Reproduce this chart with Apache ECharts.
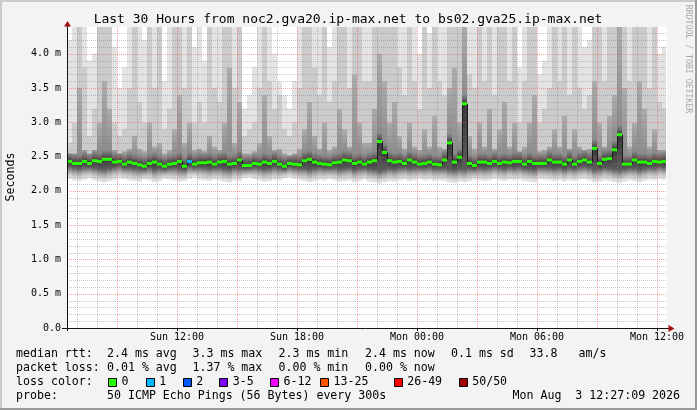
<!DOCTYPE html>
<html>
<head>
<meta charset="utf-8">
<script src="https://cdn.jsdelivr.net/npm/echarts@6/dist/echarts.min.js"></script>
<style>
html,body{margin:0;padding:0;background:#f3f3f3;}
#c{width:697px;height:410px;}
</style>
</head>
<body>
<div id="c"></div>
<script>
// ---- time axis (hours since Sun 00:00) ----
const axisStart = 6.5;      // Sun 06:30
const axisEnd = 36.5;       // Mon 12:30
const slotHours = 0.25;     // one smoke column = 15 min
const dataEnd = 36.45;      // Mon 12:27
const yMax = 4.39;

const xTickHours = [12, 18, 24, 30, 36];
const xTickLabels = ['Sun 12:00', 'Sun 18:00', 'Mon 00:00', 'Mon 06:00', 'Mon 12:00'];
const xMinorHours = [7,8,10,11,13,14,16,17,19,20,22,23,25,26,28,29,31,32,34,35];
const xMajorHours = [9,12,15,18,21,24,27,30,33,36];
const yTickValues = [0,0.5,1.0,1.5,2.0,2.5,3.0,3.5,4.0];
const yTickLabels = ['0.0','0.5 m','1.0 m','1.5 m','2.0 m','2.5 m','3.0 m','3.5 m','4.0 m'];
const yMinorValues = [0.1,0.2,0.3,0.4,0.6,0.7,0.8,0.9,1.1,1.2,1.3,1.4,1.6,1.7,1.8,1.9,2.1,2.2,2.3,2.4,2.6,2.7,2.8,2.9,3.1,3.2,3.3,3.4,3.6,3.7,3.8,3.9,4.1,4.2,4.3];
const yMajorValues = [0.5,1.0,1.5,2.0,2.5,3.0,3.5,4.0];

// ---- median rtt per slot (ms) ----
const median = [
2.43,2.40,2.40,2.43,2.40,2.44,2.43,2.46,2.46,2.42,
2.43,2.39,2.42,2.40,2.38,2.36,2.40,2.42,2.39,2.36,
2.39,2.40,2.43,2.36,2.43,2.39,2.41,2.41,2.42,2.39,
2.42,2.43,2.39,2.40,2.45,2.37,2.37,2.40,2.39,2.42,
2.40,2.43,2.39,2.36,2.40,2.39,2.38,2.44,2.46,2.42,
2.40,2.39,2.38,2.41,2.42,2.45,2.44,2.40,2.42,2.39,
2.42,2.44,2.72,2.56,2.44,2.42,2.43,2.40,2.45,2.42,
2.39,2.40,2.42,2.39,2.38,2.45,2.70,2.42,2.49,3.27,
2.40,2.37,2.42,2.42,2.40,2.43,2.40,2.42,2.41,2.43,
2.43,2.39,2.43,2.40,2.40,2.40,2.45,2.42,2.42,2.39,
2.45,2.39,2.43,2.45,2.42,2.62,2.40,2.46,2.47,2.60,
2.82,2.39,2.39,2.45,2.42,2.42,2.40,2.43,2.42,2.43];

// ---- lost pings per slot ----
const lossPings = [
0,0,0,0,0,0,0,0,0,0, 0,0,0,0,0,0,0,0,0,0,
0,0,0,0,1,0,0,0,0,0, 0,0,0,0,0,0,0,0,0,0,
0,0,0,0,0,0,0,0,0,0, 0,0,0,0,0,0,0,0,0,0,
0,0,0,0,0,0,0,0,0,0, 0,0,0,0,0,0,0,0,0,0,
0,0,0,0,0,0,0,0,0,0, 0,0,0,0,0,0,0,0,0,0,
0,0,0,0,0,0,0,0,0,0, 0,0,0,0,0,0,0,0,0,0];

// ---- smoke: lowest ping ----
const smokeLow = [
2.17,2.15,2.14,2.16,2.18,2.15,2.13,2.12,2.14,2.16,
2.18,2.17,2.15,2.14,2.13,2.16,2.15,2.12,2.14,2.17,
2.16,2.15,2.13,2.14,2.17,2.19,2.16,2.15,2.14,2.16,
2.15,2.13,2.12,2.15,2.14,2.18,2.19,2.17,2.15,2.13,
2.14,2.16,2.15,2.18,2.19,2.17,2.15,2.14,2.12,2.14,
2.16,2.15,2.17,2.15,2.13,2.14,2.15,2.12,2.14,2.16,
2.13,2.12,2.10,2.12,2.14,2.13,2.15,2.16,2.14,2.15,
2.17,2.15,2.16,2.14,2.15,2.14,2.12,2.11,2.13,2.12,
2.14,2.16,2.15,2.14,2.15,2.17,2.15,2.14,2.16,2.15,
2.16,2.14,2.13,2.12,2.17,2.16,2.15,2.14,2.15,2.13,
2.15,2.14,2.16,2.17,2.15,2.12,2.13,2.15,2.14,2.12,
2.11,2.13,2.15,2.14,2.12,2.14,2.16,2.15,2.17,2.16];

// ---- smoke: top of dense (dark) part ----
const smokeDark = [
2.55,2.55,3.5,2.6,2.55,2.6,3.0,3.6,3.2,2.6,
2.55,2.58,2.62,2.8,2.62,2.58,3.0,2.65,2.7,2.55,
2.6,2.9,3.4,2.7,3.0,2.6,2.62,2.58,2.8,2.65,
2.6,3.0,3.8,2.7,3.3,2.55,2.55,2.58,2.7,3.4,
2.8,2.6,2.62,2.55,2.52,2.55,2.62,2.9,3.3,2.8,
2.62,3.0,2.6,2.65,3.2,2.9,2.65,3.7,3.0,2.7,
2.7,3.2,4.0,3.6,3.0,3.3,2.8,2.62,3.0,2.65,
2.6,2.9,2.65,3.1,2.65,2.62,3.5,3.8,3.0,4.39,
2.8,2.62,3.0,2.65,3.2,2.62,2.9,3.3,2.65,3.0,
2.58,2.65,3.0,3.4,2.58,2.6,2.65,2.9,2.65,3.1,
2.62,2.9,2.65,2.6,2.62,3.6,3.0,2.65,3.1,3.4,
4.39,3.5,2.65,3.0,3.6,3.2,2.65,2.9,2.6,2.6];

// ---- smoke: top of medium part ----
const smokeMid = [
2.7,3.0,4.39,3.8,2.8,3.2,4.39,4.39,4.39,3.0,
2.8,2.9,3.5,4.39,3.3,3.0,4.39,3.5,4.39,2.9,
3.2,4.39,4.39,3.5,4.39,3.0,3.3,3.0,4.39,3.5,
3.3,4.39,4.39,3.5,4.39,2.8,2.9,3.0,3.5,4.39,
3.6,3.2,3.4,2.9,2.8,3.0,3.5,4.39,4.39,3.8,
3.4,4.39,3.3,3.6,4.39,4.39,3.5,4.39,4.39,3.6,
3.6,4.39,4.39,4.39,4.39,4.39,3.8,3.4,4.39,3.6,
3.2,4.39,3.5,4.39,3.6,3.4,4.39,4.39,4.39,4.39,
3.7,3.5,4.39,3.6,4.39,3.4,4.39,4.39,3.6,4.39,
3.0,3.6,4.39,4.39,3.0,3.2,3.5,4.39,3.6,4.39,
3.4,4.39,3.5,3.2,3.4,4.39,4.39,3.6,4.39,4.39,
4.39,4.39,3.6,4.39,4.39,4.39,3.5,4.39,3.3,3.2];

// ---- smoke: highest ping (clipped at top) ----
const smokeTop = [
4.2,4.39,4.39,4.39,3.9,4.0,4.39,4.39,4.39,4.1,
3.5,3.8,4.39,4.39,4.39,4.2,4.39,4.39,4.39,3.6,
4.39,4.39,4.39,4.39,4.39,4.1,4.39,3.9,4.39,4.39,
4.39,4.39,4.39,4.39,4.39,3.2,3.4,3.8,4.39,4.39,
4.39,4.0,3.6,3.4,3.2,3.6,4.39,4.39,4.39,4.39,
4.39,4.39,4.1,4.39,4.39,4.39,4.39,4.39,4.39,4.39,
4.39,4.39,4.39,4.39,4.39,4.39,4.39,4.39,4.39,4.39,
4.0,4.3,4.3,4.39,4.39,4.39,4.39,4.39,4.39,4.39,
4.39,4.39,4.39,4.39,4.39,4.39,4.39,4.39,4.39,4.39,
3.8,4.39,4.39,4.39,3.7,3.9,4.39,4.39,4.39,4.39,
4.39,4.39,4.39,4.1,4.2,4.39,4.39,4.39,4.39,4.39,
4.39,4.39,4.39,4.39,4.39,4.39,4.39,4.39,4.0,4.1];

// ---- legend texts ----
const titleText = 'Last 30 Hours from noc2.gva20.ip-max.net to bs02.gva25.ip-max.net';
const rttStats = ['2.4 ms avg', '3.3 ms max', '2.3 ms min', '2.4 ms now', '0.1 ms sd', '33.8', 'am/s'];
const lossStats = ['0.01 % avg', '1.37 % max', '0.00 % min', '0.00 % now'];
const lossLabels = ['0', '1', '2', '3-5', '6-12', '13-25', '26-49', '50/50'];
const lossColors = ['#26ff00', '#00b8ff', '#0059ff', '#7e00ff', '#f000ff', '#ff5500', '#ff0000', '#a10000'];
const probeText = '50 ICMP Echo Pings (56 Bytes) every 300s';
const dateText = 'Mon Aug  3 12:27:09 2026';

function lossColor(n) {
  if (n <= 0) return lossColors[0];
  if (n === 1) return lossColors[1];
  if (n === 2) return lossColors[2];
  if (n <= 5) return lossColors[3];
  if (n <= 12) return lossColors[4];
  if (n <= 25) return lossColors[5];
  if (n <= 49) return lossColors[6];
  return lossColors[7];
}

// ---- build series data ----
const smokeData = median.map((m, i) => {
  const xs = axisStart + i * slotHours;
  const xe = Math.min(xs + slotHours, dataEnd);
  return [xs, xe, smokeLow[i], m, smokeDark[i], smokeMid[i], smokeTop[i]];
});
const medianData = median.map((m, i) => {
  const xs = axisStart + i * slotHours;
  const xe = Math.min(xs + slotHours, dataEnd);
  return [xs, xe, m, i > 0 ? median[i - 1] : m, lossPings[i]];
});
const gridData = [];
xMinorHours.forEach(h => gridData.push([0, h, 0]));
yMinorValues.forEach(v => gridData.push([1, v, 0]));
xMajorHours.forEach(h => gridData.push([0, h, 1]));
yMajorValues.forEach(v => gridData.push([1, v, 1]));

const chart = echarts.init(document.getElementById('c'), null, {renderer: 'canvas', width: 697, height: 410});

// gradient below the median: light at the lowest ping, dark close to the median
function lowGradient(hPx) {
  const k = Math.min(1, 17 / Math.max(hPx, 1));
  return new echarts.graphic.LinearGradient(0, 0, 0, 1, [
    {offset: 0, color: '#363636'}, {offset: 1 - 0.75 * k, color: '#5e5e5e'},
    {offset: 1 - 0.5 * k, color: '#9c9c9c'}, {offset: 1 - 0.25 * k, color: '#cfcfcf'},
    {offset: 1, color: '#ececec'}]);
}
// gradient above the median: dark at the median, grey further up
function darkGradient(hPx) {
  const k = Math.min(0.95, 9 / Math.max(hPx, 1));
  return new echarts.graphic.LinearGradient(0, 0, 0, 1, [
    {offset: 0, color: '#acacac'}, {offset: 1 - k, color: '#8c8c8c'},
    {offset: 1 - k * 0.4, color: '#5c5c5c'}, {offset: 1, color: '#333333'}]);
}

const mono = '"DejaVu Sans Mono", monospace';
const fontLegend = '11.6px ' + mono;

function txt(text, x, y, o) {
  o = o || {};
  return {type: 'text', silent: true, x: x, y: y, rotation: o.rot || 0, z: 10,
    style: {text: text, font: o.font || fontLegend, fill: o.fill || '#000',
      align: o.align || 'left', verticalAlign: 'middle'}};
}

const graphics = [
  {type: 'rect', silent: true, shape: {x: 0, y: 0, width: 697, height: 2}, style: {fill: '#cbcbcb'}},
  {type: 'rect', silent: true, shape: {x: 0, y: 0, width: 2, height: 410}, style: {fill: '#cbcbcb'}},
  {type: 'rect', silent: true, shape: {x: 0, y: 408, width: 697, height: 2}, style: {fill: '#999999'}},
  {type: 'rect', silent: true, shape: {x: 695, y: 0, width: 2, height: 410}, style: {fill: '#999999'}},
  txt(titleText, 348, 19.5, {font: '13px ' + mono, align: 'center'}),
  txt('Seconds', 11, 177, {rot: Math.PI / 2, align: 'center'}),
  txt('RRDTOOL / TOBI OETIKER', 688, 59, {rot: -Math.PI / 2, align: 'center', font: '8.2px ' + mono, fill: '#a8a8a8'}),
  {type: 'line', silent: true, z: 10, shape: {x1: 62, y1: 328.5, x2: 669, y2: 328.5}, style: {stroke: '#111', lineWidth: 1}},
  {type: 'line', silent: true, z: 10, shape: {x1: 67.5, y1: 25, x2: 67.5, y2: 331}, style: {stroke: '#111', lineWidth: 1}},
  {type: 'polygon', silent: true, z: 11, shape: {points: [[64, 26.5], [71, 26.5], [67.5, 21]]}, style: {fill: '#a01010'}},
  {type: 'polygon', silent: true, z: 11, shape: {points: [[668.5, 325], [668.5, 332], [674.5, 328.5]]}, style: {fill: '#a01010'}}
];

const statX = [107, 192.5, 278.5, 365, 451, 529.5, 578.5];
graphics.push(txt('median rtt:', 16, 354));
rttStats.forEach((s, i) => graphics.push(txt(s, statX[i], 354)));
graphics.push(txt('packet loss:', 16, 368));
lossStats.forEach((s, i) => graphics.push(txt(s, statX[i], 368)));
graphics.push(txt('loss color:', 16, 382));
const boxX = [108, 145.7, 182.7, 219.3, 270, 320, 393.7, 458.7];
lossLabels.forEach((s, i) => {
  graphics.push({type: 'rect', silent: true, z: 10,
    shape: {x: Math.round(boxX[i]) + 0.5, y: 378.5, width: 8, height: 8},
    style: {fill: lossColors[i], stroke: '#000', lineWidth: 1}});
  graphics.push(txt(s, boxX[i] + 13.5, 382));
});
graphics.push(txt('probe:', 16, 396));
graphics.push(txt(probeText, 107, 396));
graphics.push(txt(dateText, 512.5, 396));

function findLabel(vals, labels, v) {
  for (let i = 0; i < vals.length; i++) if (Math.abs(vals[i] - v) < 1e-6) return labels[i];
  return '';
}

const option = {
  animation: false,
  backgroundColor: '#f3f3f3',
  grid: {left: 67, top: 27, width: 600, height: 301, show: true, backgroundColor: '#ffffff', borderWidth: 0},
  xAxis: {
    type: 'value', min: axisStart, max: axisEnd,
    splitLine: {show: false},
    axisLine: {show: false},
    axisTick: {show: true, customValues: xTickHours, length: 3, lineStyle: {color: '#111'}},
    axisLabel: {customValues: xTickHours, formatter: v => findLabel(xTickHours, xTickLabels, v),
      fontFamily: mono, fontSize: 10, color: '#000', margin: 4}
  },
  yAxis: {
    type: 'value', min: 0, max: yMax, interval: 0.5,
    splitLine: {show: false},
    axisLine: {show: false},
    axisTick: {show: false},
    axisLabel: {customValues: yTickValues, formatter: v => findLabel(yTickValues, yTickLabels, v),
      fontFamily: mono, fontSize: 10, color: '#000', margin: 6}
  },
  series: [
    {
      type: 'custom', name: 'smoke', z: 1, clip: true, silent: true,
      data: smokeData,
      renderItem: function (params, api) {
        const xs = api.value(0), xe = api.value(1);
        const lo = api.value(2), med = api.value(3), d = api.value(4), m = api.value(5), t = api.value(6);
        const x0 = Math.round(api.coord([xs, 0])[0]);
        const x1 = Math.round(api.coord([xe, 0])[0]);
        const py = v => api.coord([xs, v])[1];
        const rect = (a, b, fill) => ({type: 'rect',
          shape: {x: x0, y: py(b), width: x1 - x0, height: Math.max(0, py(a) - py(b))},
          style: {fill: fill}});
        return {type: 'group', children: [
          rect(m, t, '#e3e3e3'),
          rect(d, m, '#cbcbcb'),
          rect(med, d, darkGradient(py(med) - py(d))),
          rect(lo, med, lowGradient(py(lo) - py(med)))
        ]};
      }
    },
    {
      type: 'custom', name: 'grid', z: 3, clip: false, silent: true,
      data: gridData,
      renderItem: function (params, api) {
        const orient = api.value(0), v = api.value(1), major = api.value(2);
        const cs = params.coordSys;
        const style = {stroke: major ? 'rgba(255,70,70,0.5)' : 'rgba(120,120,120,0.4)', lineWidth: 1, lineDash: [1, 1]};
        if (orient === 0) {
          const x = Math.round(api.coord([v, 0])[0]) + 0.5;
          return {type: 'line', shape: {x1: x, y1: cs.y, x2: x, y2: cs.y + cs.height}, style: style};
        }
        const y = Math.round(api.coord([axisStart, v])[1]) + 0.5;
        return {type: 'line', shape: {x1: cs.x, y1: y, x2: cs.x + cs.width, y2: y}, style: style};
      }
    },
    {
      type: 'custom', name: 'median', z: 5, clip: true, silent: true,
      data: medianData,
      renderItem: function (params, api) {
        const xs = api.value(0), xe = api.value(1), med = api.value(2), prev = api.value(3), lp = api.value(4);
        const x0 = Math.round(api.coord([xs, 0])[0]);
        const x1 = Math.round(api.coord([xe, 0])[0]);
        const y = api.coord([xs, med])[1];
        const yp = api.coord([xs, prev])[1];
        return {type: 'group', children: [
          {type: 'line', shape: {x1: x0 + 0.5, y1: yp, x2: x0 + 0.5, y2: y}, style: {stroke: '#1a1a1a', lineWidth: 1}},
          {type: 'line', shape: {x1: x0, y1: y, x2: x1, y2: y}, style: {stroke: lossColor(lp), lineWidth: 3}}
        ]};
      }
    }
  ],
  graphic: graphics
};
chart.setOption(option);
</script>
</body>
</html>
